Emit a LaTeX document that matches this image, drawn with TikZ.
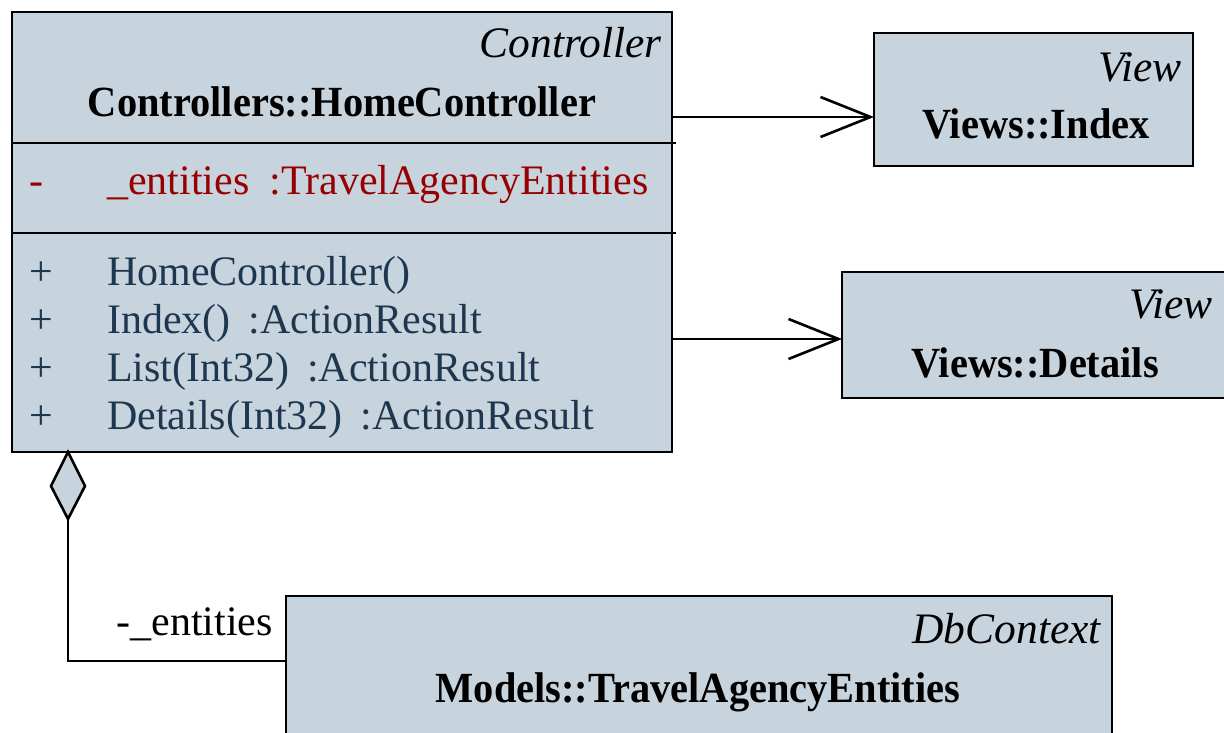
\documentclass[tikz,border=0pt]{standalone}
\usepackage{fontspec}
\setmainfont{Liberation Serif}
\IfFontExistsTF{LiberationSerif-Bold.ttf}{\newfontfamily\tbold[FakeStretch=0.94]{LiberationSerif-Bold.ttf}}{%
  \IfFontExistsTF{Liberation Serif Bold}{\newfontfamily\tbold[FakeStretch=0.94]{Liberation Serif Bold}}{\newfontfamily\tbold[FakeBold=2]{Liberation Serif}}}
\IfFontExistsTF{LiberationSerif-Italic.ttf}{\newfontfamily\titalic{LiberationSerif-Italic.ttf}}{%
  \IfFontExistsTF{Liberation Serif Italic}{\newfontfamily\titalic{Liberation Serif Italic}}{\newfontfamily\titalic[FakeSlant=0.2]{Liberation Serif}}}
\usetikzlibrary{arrows.meta}
\definecolor{boxfill}{RGB}{200,212,221}
\definecolor{attrred}{RGB}{150,0,0}
\definecolor{opblue}{RGB}{30,55,80}
\begin{document}
\begin{tikzpicture}[x=1pt,y=-1pt,
  umlbox/.style={draw=black, fill=boxfill, line width=2.9pt, rectangle, inner sep=0pt, outer sep=0pt, anchor=north west},
  stereo/.style={font=\fontsize{43.5}{48}\titalic, anchor=base east, inner sep=0pt},
  title/.style={font=\fontsize{43}{48}\tbold, anchor=base, inner sep=0pt},
  member/.style={font=\fontsize{42}{48}\selectfont, anchor=base west, inner sep=0pt},
  sepline/.style={line width=2.9pt},
  conn/.style={line width=2.6pt},
  dep/.style={conn, -{Straight Barb[length=50pt,width=40pt]}}]
\useasboundingbox (0,0) rectangle (1224,733);
\clip (0,0) rectangle (1224,733);
% HomeController
\node[umlbox, minimum width=660pt, minimum height=440pt] (hc) at (12,12) {};
\node[stereo] (hcst) at (662,58) {Controller};
\node[title] (hct) at (342,117) {Controllers::HomeController};
\draw[sepline] (12,143) -- (676,143);
\draw[sepline] (12,233) -- (676,233);
\node[member, text=attrred] (a0) at (29,194) {-};
\node[member, text=attrred] (a1) at (107,194) {\_entities\hspace{20pt}:TravelAgencyEntities};
\node[member, text=opblue] (p1) at (29,285) {+};
\node[member, text=opblue] (m1) at (107,285) {HomeController()};
\node[member, text=opblue] (p2) at (29,333) {+};
\node[member, text=opblue] (m2) at (107,333) {Index()\hspace{18pt}:ActionResult};
\node[member, text=opblue] (p3) at (29,381) {+};
\node[member, text=opblue] (m3) at (107,381) {List(Int32)\hspace{18pt}:ActionResult};
\node[member, text=opblue] (p4) at (29,429) {+};
\node[member, text=opblue] (m4) at (107,429) {Details(Int32)\hspace{18pt}:ActionResult};
% Views::Index
\node[umlbox, minimum width=319pt, minimum height=133pt] (idx) at (874,33) {};
\node[stereo] (idxst) at (1182,82) {View};
\node[title] (idxt) at (1036,139) {Views::Index};
% Views::Details
\node[umlbox, minimum width=384pt, minimum height=126pt] (det) at (842,272) {};
\node[stereo] (detst) at (1213,318) {View};
\node[title] (dett) at (1035,377) {Views::Details};
% Models::TravelAgencyEntities
\node[umlbox, minimum width=826pt, minimum height=160pt] (tae) at (286,596) {};
\node[stereo] (taest) at (1101,643) {DbContext};
\node[title] (taet) at (698,702) {Models::TravelAgencyEntities};
% connectors
\coordinate (y1) at (0,117);
\coordinate (y2) at (0,339);
\coordinate (y3) at (0,661);
\coordinate (dx) at (68,0);
\draw[dep] (hc.east |- y1) -- (idx.west |- y1);
\draw[dep] (hc.east |- y2) -- (det.west |- y2);
\coordinate (dtop) at (dx |- hc.south);
\draw[conn, fill=boxfill, line join=miter] (dtop) -- ++(17,34) coordinate (dr) -- ++(-17,33) coordinate (dbot) -- ++(-17,-33) -- cycle;
\draw[conn] (dbot) -- (dx |- y3) -- (tae.west |- y3);
\node[member, anchor=base east] (lbl) at (273,635) {-\_entities};
\end{tikzpicture}
\end{document}
